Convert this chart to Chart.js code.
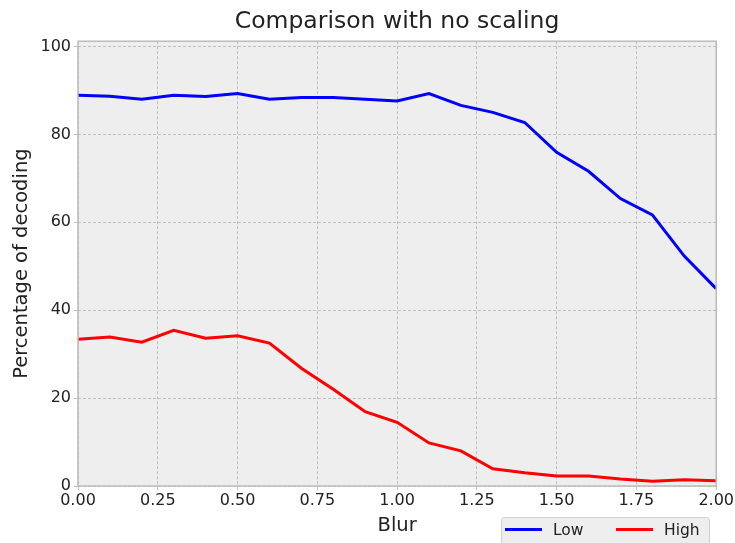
<!DOCTYPE html>
<html>
<head>
<meta charset="utf-8">
<script src="https://cdn.jsdelivr.net/npm/chart.js@4"></script>
<style>
  html, body { margin: 0; padding: 0; background: #fff; }
  #wrap { width: 735px; height: 543px; }
</style>
</head>
<body>
<div id="wrap"><canvas id="chart" width="735" height="543"></canvas></div>
<script>
const blur = [0.0, 0.1, 0.2, 0.3, 0.4, 0.5, 0.6, 0.7, 0.8, 0.9, 1.0, 1.1, 1.2, 1.3, 1.4, 1.5, 1.6, 1.7, 1.8, 1.9, 2.0];
const lowValues = [88.9, 88.7, 88.0, 88.9, 88.6, 89.3, 88.0, 88.4, 88.4, 88.0, 87.6, 89.3, 86.6, 85.0, 82.7, 75.9, 71.6, 65.4, 61.7, 52.3, 44.9];
const highValues = [33.4, 33.9, 32.7, 35.4, 33.6, 34.2, 32.5, 26.8, 22.0, 16.9, 14.5, 9.8, 8.0, 3.9, 3.0, 2.3, 2.3, 1.6, 1.1, 1.4, 1.2];
const seriesNames = ['Low', 'High'];
const yTicks = [0, 20, 40, 60, 80, 100];

const font = 'DejaVu Sans';

// legend sits under the plot, bottom right, like matplotlib's
const legendBox = {
    id: 'legendBox',
    afterDraw(chart) {
        const ctx = chart.ctx;
        const x = 501, y = 517, w = 208, h = 40;
        ctx.save();
        ctx.fillStyle = '#eeeeee';
        ctx.strokeStyle = '#d0d0d0';
        ctx.lineWidth = 1;
        ctx.beginPath();
        ctx.roundRect(x + 0.5, y + 0.5, w, h, 3);
        ctx.fill();
        ctx.stroke();
        const items = [
            { ds: chart.data.datasets[0], lx: 505, tx: 553 },
            { ds: chart.data.datasets[1], lx: 616, tx: 664 }
        ];
        ctx.font = '15.5px "' + font + '"';
        ctx.textBaseline = 'middle';
        items.forEach(it => {
            ctx.strokeStyle = it.ds.borderColor;
            ctx.lineWidth = 3;
            ctx.beginPath();
            ctx.moveTo(it.lx, 529.5);
            ctx.lineTo(it.lx + 37, 529.5);
            ctx.stroke();
            ctx.fillStyle = '#222';
            ctx.fillText(it.ds.label, it.tx, 531);
        });
        ctx.restore();
    }
};

const plotFrame = {
    id: 'plotFrame',
    afterLayout(chart) {
        // center the title over the plot area, not the whole canvas
        if (chart.titleBlock) {
            chart.titleBlock.left = chart.chartArea.left;
            chart.titleBlock.right = chart.chartArea.right;
        }
    },
    beforeDraw(chart) {
        const a = chart.chartArea;
        const ctx = chart.ctx;
        ctx.save();
        ctx.fillStyle = '#eeeeee';
        ctx.fillRect(a.left, a.top, a.right - a.left, a.bottom - a.top);
        ctx.restore();
    },
    afterDatasetsDraw(chart) {
        const a = chart.chartArea;
        const ctx = chart.ctx;
        ctx.save();
        ctx.strokeStyle = '#bcbcbc';
        ctx.lineWidth = 1.5;
        ctx.strokeRect(a.left, a.top, a.right - a.left, a.bottom - a.top);
        ctx.restore();
    }
};

new Chart(document.getElementById('chart'), {
    type: 'line',
    data: {
        datasets: [
            {
                label: seriesNames[0],
                data: blur.map((b, i) => ({ x: b, y: lowValues[i] })),
                borderColor: '#0000ff',
                borderWidth: 3,
                pointRadius: 0,
                tension: 0
            },
            {
                label: seriesNames[1],
                data: blur.map((b, i) => ({ x: b, y: highValues[i] })),
                borderColor: '#ff0000',
                borderWidth: 3,
                pointRadius: 0,
                tension: 0
            }
        ]
    },
    options: {
        responsive: false,
        animation: false,
        layout: { padding: { left: 0, right: 18, top: 0, bottom: 0 } },
        plugins: {
            legend: { display: false },
            tooltip: { enabled: false },
            title: {
                display: true,
                text: 'Comparison with no scaling',
                color: '#222',
                font: { family: font, size: 23.5, weight: 'normal' },
                padding: { top: 8, bottom: 5 }
            }
        },
        scales: {
            x: {
                type: 'linear',
                min: 0,
                max: 2,
                ticks: {
                    stepSize: 0.25,
                    color: '#222',
                    font: { family: font, size: 16 },
                    padding: 1,
                    maxRotation: 0,
                    callback: v => v.toFixed(2)
                },
                grid: { color: '#b2b2b2', lineWidth: 0.8, tickLength: 4 },
                border: { display: false, dash: [3, 2] },
                title: {
                    display: true,
                    text: 'Blur',
                    color: '#222',
                    font: { family: font, size: 19.5 },
                    padding: { top: 5, bottom: 5 }
                },
                afterFit(scale) { scale.height = 57; }
            },
            y: {
                min: 0,
                max: 101.2,
                afterBuildTicks(scale) {
                    scale.ticks = yTicks.map(v => ({ value: v }));
                },
                ticks: {
                    color: '#222',
                    font: { family: font, size: 16 },
                    padding: 3
                },
                grid: { color: '#b2b2b2', lineWidth: 0.8, tickLength: 4 },
                border: { display: false, dash: [3, 2] },
                title: {
                    display: true,
                    text: 'Percentage of decoding',
                    color: '#222',
                    font: { family: font, size: 19.5 },
                    padding: { top: 10, bottom: 0 }
                },
                afterFit(scale) { scale.width = 78; }
            }
        }
    },
    plugins: [plotFrame, legendBox]
});
</script>
</body>
</html>
